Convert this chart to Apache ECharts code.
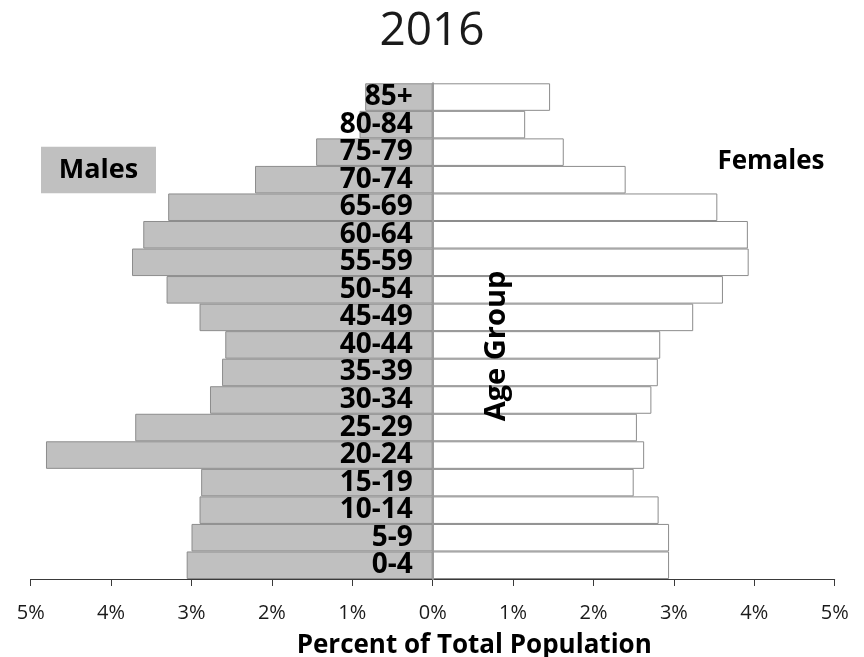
<!DOCTYPE html>
<html>
<head>
<meta charset="utf-8">
<script src="https://cdn.jsdelivr.net/npm/echarts@6/dist/echarts.min.js"></script>
<style>
  html, body { margin: 0; padding: 0; background: #ffffff; }
  #chart { width: 864px; height: 657px; }
</style>
</head>
<body>
<div id="chart"></div>
<script>
// Age groups, bottom (youngest) to top (oldest)
const ageGroups = ['0-4', '5-9', '10-14', '15-19', '20-24', '25-29', '30-34', '35-39',
  '40-44', '45-49', '50-54', '55-59', '60-64', '65-69', '70-74', '75-79', '80-84', '85+'];

// Share of total population, percent
const males = [3.06, 3.00, 2.90, 2.88, 4.81, 3.70, 2.77, 2.62,
  2.58, 2.90, 3.31, 3.74, 3.60, 3.29, 2.21, 1.45, 0.91, 0.84];
const females = [2.94, 2.94, 2.81, 2.50, 2.63, 2.54, 2.72, 2.80,
  2.83, 3.24, 3.61, 3.93, 3.92, 3.54, 2.40, 1.63, 1.15, 1.46];

// Percent axis ticks, shown without sign on both sides
const percentTicks = { min: -5, max: 5, step: 1 };

const FONT = '"Open Sans", "DejaVu Sans", sans-serif';

// Plot area
const GRID = { left: 30.7, right: 29.3, top: 83.3, bottom: 78 };
const plotWidth = 864 - GRID.left - GRID.right;

const chart = echarts.init(document.getElementById('chart'), null, { renderer: 'canvas' });

chart.setOption({
  backgroundColor: '#ffffff',
  animation: false,
  title: {
    text: '2016',
    left: 'center',
    top: 4,
    textStyle: { fontFamily: FONT, fontSize: 46, fontWeight: 'normal', color: '#1a1a1a' }
  },
  grid: {
    left: GRID.left, right: GRID.right, top: GRID.top, bottom: GRID.bottom,
    containLabel: false, outerBoundsMode: 'none'
  },
  xAxis: {
    type: 'value',
    min: percentTicks.min,
    max: percentTicks.max,
    interval: percentTicks.step,
    name: 'Percent of Total Population',
    nameLocation: 'middle',
    nameGap: 54,
    nameTextStyle: {
      fontFamily: FONT, fontSize: 26, fontWeight: 'bold', color: '#000',
      // title sits a little right of the plot centre
      padding: [0, 0, 0, 83]
    },
    axisLine: { show: true, onZero: false, lineStyle: { color: '#3a3a3a', width: 1 } },
    axisTick: { show: true, length: 7, lineStyle: { color: '#3a3a3a' } },
    splitLine: { show: false },
    axisLabel: {
      margin: 24,
      fontFamily: FONT, fontSize: 20, color: '#1a1a1a',
      formatter: v => Math.abs(v) + '%'
    }
  },
  yAxis: {
    type: 'category',
    data: ageGroups,
    position: 'left',
    // shift the age axis from the left edge to the 0% line
    offset: -plotWidth / 2,
    z: 10,
    axisLine: { show: true, onZero: false, lineStyle: { color: '#9a9a9a', width: 2 } },
    axisTick: { show: false },
    splitLine: { show: false },
    axisLabel: {
      interval: 0,
      hideOverlap: false,
      margin: 20,
      fontFamily: FONT, fontSize: 28, fontWeight: 'bold', color: '#000'
    }
  },
  series: [
    {
      name: 'Males',
      type: 'bar',
      stack: 'pyramid',
      barCategoryGap: 0,
      data: males.map(v => -v),
      itemStyle: { color: '#c0c0c0', borderColor: '#8c8c8c', borderWidth: 1 }
    },
    {
      name: 'Females',
      type: 'bar',
      stack: 'pyramid',
      barCategoryGap: 0,
      data: females,
      itemStyle: { color: '#ffffff', borderColor: '#8c8c8c', borderWidth: 1 }
    }
  ],
  graphic: [
    {
      type: 'rect',
      shape: { x: 41, y: 146.7, width: 115, height: 46.6 },
      style: { fill: '#c0c0c0' },
      z: 20
    },
    {
      type: 'text',
      x: 98.5, y: 170,
      style: {
        text: 'Males', fontFamily: FONT, fontSize: 27, fontWeight: 'bold', fill: '#000',
        textAlign: 'center', textVerticalAlign: 'middle'
      },
      z: 21
    },
    {
      type: 'text',
      x: 771, y: 162,
      style: {
        text: 'Females', fontFamily: FONT, fontSize: 26, fontWeight: 'bold', fill: '#000',
        textAlign: 'center', textVerticalAlign: 'middle'
      },
      z: 21
    },
    {
      type: 'text',
      x: 497, y: 346,
      rotation: Math.PI / 2,
      style: {
        text: 'Age Group', fontFamily: FONT, fontSize: 29, fontWeight: 'bold', fill: '#000',
        textAlign: 'center', textVerticalAlign: 'middle'
      },
      z: 21
    }
  ]
});
</script>
</body>
</html>
